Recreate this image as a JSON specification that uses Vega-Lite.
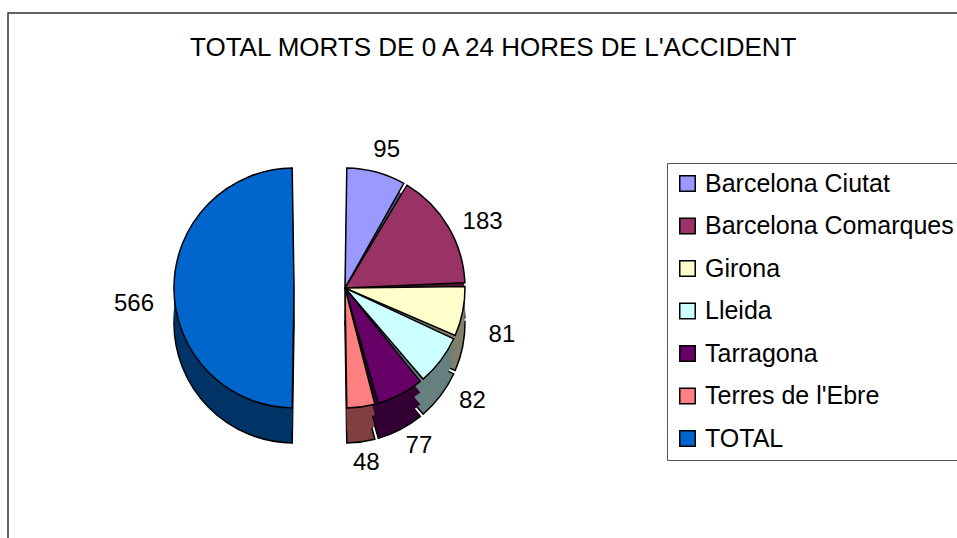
{
  "$schema": "https://vega.github.io/schema/vega-lite/v6.json",
  "width": 956,
  "height": 532,
  "padding": {"left": 8, "top": 13, "right": 0, "bottom": 0},
  "autosize": {"type": "none"},
  "background": "white",
  "view": {"stroke": "#333333", "strokeWidth": 1.5, "fill": "white"},
  "title": {
    "text": "TOTAL MORTS DE 0 A 24 HORES DE L'ACCIDENT",
    "font": "Liberation Sans",
    "fontSize": 26,
    "fontWeight": "normal",
    "color": "black",
    "anchor": "start",
    "baseline": "alphabetic",
    "offset": -69,
    "dx": 182
  },
  "config": {
    "text": {"font": "Liberation Sans"}
  },
  "data": {
    "values": [
      {"n": 1, "region": "Barcelona Ciutat", "value": 95},
      {"n": 2, "region": "Barcelona Comarques", "value": 183},
      {"n": 3, "region": "Girona", "value": 81},
      {"n": 4, "region": "Lleida", "value": 82},
      {"n": 5, "region": "Tarragona", "value": 77},
      {"n": 6, "region": "Terres de l'Ebre", "value": 48},
      {"n": 7, "region": "TOTAL", "value": 566}
    ]
  },
  "resolve": {"scale": {"color": "independent"}},
  "layer": [
    {
      "mark": {"type": "arc", "outerRadius": 120, "padAngle": 0.03, "xOffset": -141, "yOffset": 44, "stroke": "black", "strokeWidth": 1.5},
      "encoding": {
        "theta": {"field": "value", "type": "quantitative", "stack": true},
        "order": {"field": "n", "type": "quantitative"},
        "color": {"field": "region", "type": "nominal", "legend": null,
          "scale": {"domain": ["Barcelona Ciutat", "Barcelona Comarques", "Girona", "Lleida", "Tarragona", "Terres de l'Ebre", "TOTAL"],
                    "range": ["#4C4C80", "#4C1933", "#80806A", "#668080", "#330033", "#804040", "#003366"]}},
        "opacity": {"condition": {"test": "datum.region === 'TOTAL'", "value": 0}, "value": 1}
      }
    },
    {
      "mark": {"type": "arc", "outerRadius": 120, "padAngle": 0.03, "xOffset": -192, "yOffset": 44, "stroke": "black", "strokeWidth": 1.5},
      "encoding": {
        "theta": {"field": "value", "type": "quantitative", "stack": true},
        "order": {"field": "n", "type": "quantitative"},
        "color": {"field": "region", "type": "nominal", "legend": null,
          "scale": {"domain": ["Barcelona Ciutat", "Barcelona Comarques", "Girona", "Lleida", "Tarragona", "Terres de l'Ebre", "TOTAL"],
                    "range": ["#4C4C80", "#4C1933", "#80806A", "#668080", "#330033", "#804040", "#003366"]}},
        "opacity": {"condition": {"test": "datum.region === 'TOTAL'", "value": 1}, "value": 0}
      }
    },
    {
      "mark": {"type": "arc", "outerRadius": 120, "padAngle": 0.03, "xOffset": -141, "yOffset": 32},
      "encoding": {
        "theta": {"field": "value", "type": "quantitative", "stack": true},
        "order": {"field": "n", "type": "quantitative"},
        "color": {"field": "region", "type": "nominal", "legend": null,
          "scale": {"domain": ["Barcelona Ciutat", "Barcelona Comarques", "Girona", "Lleida", "Tarragona", "Terres de l'Ebre", "TOTAL"],
                    "range": ["#4C4C80", "#4C1933", "#80806A", "#668080", "#330033", "#804040", "#003366"]}},
        "opacity": {"condition": {"test": "datum.region === 'TOTAL'", "value": 0}, "value": 1}
      }
    },
    {
      "mark": {"type": "arc", "outerRadius": 120, "padAngle": 0.03, "xOffset": -192, "yOffset": 32},
      "encoding": {
        "theta": {"field": "value", "type": "quantitative", "stack": true},
        "order": {"field": "n", "type": "quantitative"},
        "color": {"field": "region", "type": "nominal", "legend": null,
          "scale": {"domain": ["Barcelona Ciutat", "Barcelona Comarques", "Girona", "Lleida", "Tarragona", "Terres de l'Ebre", "TOTAL"],
                    "range": ["#4C4C80", "#4C1933", "#80806A", "#668080", "#330033", "#804040", "#003366"]}},
        "opacity": {"condition": {"test": "datum.region === 'TOTAL'", "value": 1}, "value": 0}
      }
    },
    {
      "mark": {"type": "arc", "outerRadius": 120, "padAngle": 0.03, "xOffset": -141, "yOffset": 20},
      "encoding": {
        "theta": {"field": "value", "type": "quantitative", "stack": true},
        "order": {"field": "n", "type": "quantitative"},
        "color": {"field": "region", "type": "nominal", "legend": null,
          "scale": {"domain": ["Barcelona Ciutat", "Barcelona Comarques", "Girona", "Lleida", "Tarragona", "Terres de l'Ebre", "TOTAL"],
                    "range": ["#4C4C80", "#4C1933", "#80806A", "#668080", "#330033", "#804040", "#003366"]}},
        "opacity": {"condition": {"test": "datum.region === 'TOTAL'", "value": 0}, "value": 1}
      }
    },
    {
      "mark": {"type": "arc", "outerRadius": 120, "padAngle": 0.03, "xOffset": -192, "yOffset": 20},
      "encoding": {
        "theta": {"field": "value", "type": "quantitative", "stack": true},
        "order": {"field": "n", "type": "quantitative"},
        "color": {"field": "region", "type": "nominal", "legend": null,
          "scale": {"domain": ["Barcelona Ciutat", "Barcelona Comarques", "Girona", "Lleida", "Tarragona", "Terres de l'Ebre", "TOTAL"],
                    "range": ["#4C4C80", "#4C1933", "#80806A", "#668080", "#330033", "#804040", "#003366"]}},
        "opacity": {"condition": {"test": "datum.region === 'TOTAL'", "value": 1}, "value": 0}
      }
    },
    {
      "mark": {"type": "arc", "outerRadius": 120, "padAngle": 0.03, "xOffset": -141, "yOffset": 9, "stroke": "black", "strokeWidth": 1.5},
      "encoding": {
        "theta": {"field": "value", "type": "quantitative", "stack": true},
        "order": {"field": "n", "type": "quantitative"},
        "color": {"field": "region", "type": "nominal", "legend": null,
          "scale": {"domain": ["Barcelona Ciutat", "Barcelona Comarques", "Girona", "Lleida", "Tarragona", "Terres de l'Ebre", "TOTAL"],
                    "range": ["#9999FF", "#993366", "#FFFFCC", "#CCFFFF", "#660066", "#FF8080", "#0066CC"]}},
        "opacity": {"condition": {"test": "datum.region === 'TOTAL'", "value": 0}, "value": 1}
      }
    },
    {
      "mark": {"type": "arc", "outerRadius": 120, "padAngle": 0.03, "xOffset": -192, "yOffset": 9, "stroke": "black", "strokeWidth": 1.5},
      "encoding": {
        "theta": {"field": "value", "type": "quantitative", "stack": true},
        "order": {"field": "n", "type": "quantitative"},
        "color": {"field": "region", "type": "nominal",
          "scale": {"domain": ["Barcelona Ciutat", "Barcelona Comarques", "Girona", "Lleida", "Tarragona", "Terres de l'Ebre", "TOTAL"],
                    "range": ["#9999FF", "#993366", "#FFFFCC", "#CCFFFF", "#660066", "#FF8080", "#0066CC"]},
          "legend": {
            "title": null,
            "orient": "none",
            "legendX": 659,
            "legendY": 150,
            "direction": "vertical",
            "symbolType": "square",
            "symbolSize": 240,
            "symbolStrokeColor": "black",
            "symbolStrokeWidth": 1.5,
            "symbolOpacity": 1,
            "labelFont": "Liberation Sans",
            "labelFontSize": 25,
            "labelColor": "black",
            "labelOffset": 5,
            "labelLimit": 400,
            "rowPadding": 16.5,
            "padding": 8,
            "strokeColor": "#555555",
            "fillColor": "white"
          }},
        "opacity": {"condition": {"test": "datum.region === 'TOTAL'", "value": 1}, "value": 0}
      }
    },
    {
      "mark": {"type": "text", "radius": 160, "xOffset": -141, "yOffset": 25, "fontSize": 24, "font": "Liberation Sans", "color": "black"},
      "encoding": {
        "theta": {"field": "value", "type": "quantitative", "stack": true},
        "order": {"field": "n", "type": "quantitative"},
        "text": {"field": "value", "type": "quantitative"},
        "opacity": {"condition": {"test": "datum.region === 'TOTAL'", "value": 0}, "value": 1}
      }
    },
    {
      "mark": {"type": "text", "radius": 160, "xOffset": -192, "yOffset": 25, "fontSize": 24, "font": "Liberation Sans", "color": "black"},
      "encoding": {
        "theta": {"field": "value", "type": "quantitative", "stack": true},
        "order": {"field": "n", "type": "quantitative"},
        "text": {"field": "value", "type": "quantitative"},
        "opacity": {"condition": {"test": "datum.region === 'TOTAL'", "value": 1}, "value": 0}
      }
    }
  ]
}
